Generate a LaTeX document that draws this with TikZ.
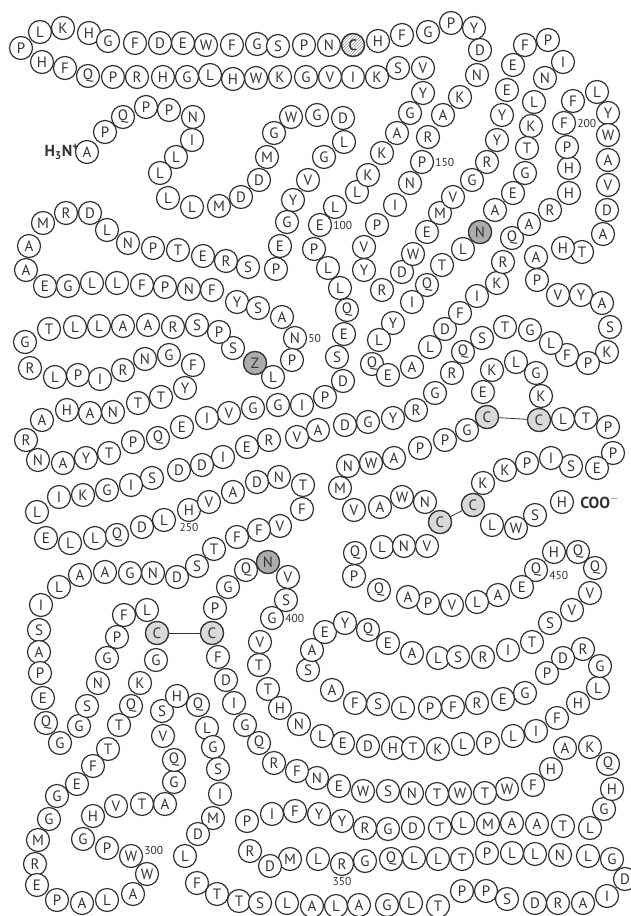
\documentclass[tikz,border=0pt]{standalone}
\usepackage{fontspec}
\setmainfont{PT Sans}
\usetikzlibrary{positioning,patterns}
\definecolor{ringgray}{HTML}{333333}
\tikzset{
  res/.style={circle, draw=ringgray, line width=1.2pt, fill=white, text=ringgray,
    minimum size=23pt, inner sep=0pt, font=\fontsize{15}{15}\selectfont},
  glyco/.style={res, fill=gray!65},
  cys/.style={res, fill=gray!30},
  num/.style={font=\fontsize{11.5}{11.5}\selectfont, text=ringgray, inner sep=1pt},
  term/.style={font=\fontsize{16}{16}\selectfont\bfseries, text=ringgray, inner sep=0pt},
}
\begin{document}
\begin{tikzpicture}[x=1pt, y=-1pt]
  \useasboundingbox (0,0) rectangle (631,916);
  % residues 1..496, in chain order
  \foreach \x/\y/\aa [count=\i] in {
    % N-terminal hairpin
    87/152/A, 105/132/P, 123/117/Q, 146/107/P, 169/110/P, 193/117/N, 192/140/I, 176/157/L, 160/173/L, 168/198/L,
    192/207/L, 219/206/M, 241/197/D, 259/180/D, 267/157/M, 274/133/G, 291/117/W, 317/115/G, 343/118/D, 344/142/L,
    324/157/G, 308/180/V, 293/200/Y, 287/222/G, 280/246/E, 276/269/P, 248/267/S, 226/261/R, 203/256/E, 178/250/T,
    153/248/P, 128/243/N, 107/230/L, 90/213/D, 66/213/R, 43/223/M, 29/246/A, 26/270/A, 45/286/E, 68/286/G,
    92/283/L, 117/283/L, 142/285/F, 165/287/P, 189/289/N, 212/290/F, 237/302/Y, 258/308/S, 282/317/A, 295/338/N,
    % 51..100
    292/360/P, 273/377/L, 255/363/Z, 233/348/S, 219/332/P, 197/325/S, 173/327/R, 148/325/A, 123/326/A, 99/326/L,
    75/327/L, 49/329/T, 25/342/G, 30/368/R, 55/377/L, 78/375/P, 100/379/I, 123/370/R, 145/359/N, 169/355/G,
    193/365/F, 185/388/Y, 161/397/T, 138/403/T, 113/412/N, 90/413/A, 67/410/H, 42/420/A, 26/440/R, 38/460/N,
    63/463/A, 86/458/Y, 109/453/T, 133/442/P, 158/438/Q, 182/427/E, 207/418/I, 229/413/V, 253/408/G, 278/405/G,
    302/405/I, 325/397/P, 343/381/D, 337/357/S, 344/334/E, 347/310/Q, 340/288/L, 328/268/L, 314/249/P, 320/225/E,
    % 101..150, top loop
    335/207/L, 357/192/L, 368/175/K, 382/153/K, 397/133/A, 410/113/G, 423/93/Y, 423/68/V, 398/68/S, 377/77/K,
    353/77/I, 330/77/V, 306/77/G, 280/77/K, 256/78/W, 233/79/H, 210/75/L, 187/77/G, 163/77/H, 137/77/R,
    113/77/P, 88/76/Q, 65/68/F, 42/62/H, 21/48/P, 40/32/L, 63/28/K, 89/33/H, 108/41/G, 135/43/F,
    160/43/D, 183/43/E, 206/45/W, 232/45/F, 257/44/G, 278/46/S, 304/45/P, 329/45/N, 353/45/C, 378/41/H,
    402/35/F, 428/32/G, 451/23/P, 474/28/Y, 480/50/D, 477/75/N, 460/97/K, 443/115/A, 428/137/R, 422/162/P,
    % 151..200
    410/183/N, 395/205/I, 377/225/P, 364/247/V, 364/270/Y, 382/290/R, 402/272/D, 413/254/W, 427/232/E, 440/213/M,
    453/197/V, 472/180/G, 487/162/R, 497/140/Y, 502/115/Y, 507/90/E, 513/65/E, 525/45/F, 548/40/P, 563/62/I,
    545/78/N, 534/102/L, 531/126/K, 527/148/T, 525/173/G, 513/193/E, 495/210/A, 480/232/N, 463/249/L, 442/265/T,
    427/285/Q, 412/302/I, 393/323/Y, 379/340/L, 372/364/Q, 388/375/E, 412/367/A, 430/347/L, 445/329/D, 460/313/F,
    477/296/I, 497/283/K, 503/262/R, 512/238/Q, 529/224/A, 550/210/R, 569/193/H, 569/168/H, 567/147/P, 564/123/F,
    % 201..250
    573/101/F, 597/92/L, 608/113/Y, 608/135/W, 608/160/A, 608/185/V, 607/210/D, 603/234/A, 582/252/T, 563/248/H,
    536/257/A, 537/280/P, 558/295/V, 581/295/Y, 602/303/A, 610/327/S, 607/352/K, 588/363/P, 567/355/F, 551/343/L,
    530/330/G, 505/327/T, 482/338/S, 463/352/Q, 452/373/R, 435/393/G, 416/410/R, 393/418/Y, 368/422/G, 345/425/D,
    318/430/A, 297/437/V, 269/440/R, 247/447/E, 223/457/I, 202/465/D, 179/470/D, 152/478/S, 131/485/I, 107/490/G,
    83/495/K, 59/497/I, 37/512/L, 46/538/E, 70/543/L, 95/538/L, 117/535/Q, 142/527/D, 164/520/L, 189/510/H,
    % 251..300
    209/502/V, 233/492/A, 257/482/D, 279/477/N, 303/485/T, 302/509/F, 280/526/V, 259/530/F, 237/537/F, 214/549/T,
    197/566/S, 177/577/D, 153/573/N, 130/573/G, 105/572/A, 80/575/A, 59/587/L, 41/605/I, 39/630/S, 39/652/A,
    40/673/P, 43/698/E, 46/723/Q, 60/743/G, 79/726/G, 87/706/S, 98/683/N, 107/658/G, 117/637/P, 124/615/F,
    147/610/L, 157/633/C, 156/660/G, 140/683/K, 131/706/Q, 119/725/T, 108/749/T, 93/766/F, 77/784/E, 57/796/G,
    49/819/G, 38/840/M, 35/864/R, 37/885/E, 57/900/P, 82/903/A, 107/900/L, 133/894/A, 147/874/W, 131/856/W,
    % 301..350
    107/848/P, 83/839/G, 93/816/H, 116/806/V, 142/804/T, 165/804/A, 174/782/G, 174/760/Q, 163/736/V, 162/711/S,
    177/696/H, 198/705/Q, 207/728/L, 213/747/G, 218/769/S, 220/794/I, 213/818/M, 198/834/D, 185/856/L, 197/883/F,
    217/894/T, 239/901/T, 260/903/S, 287/903/L, 312/906/A, 336/906/L, 359/905/A, 387/905/G, 411/903/L, 438/906/T,
    462/891/P, 486/891/P, 507/899/S, 535/903/D, 558/903/R, 583/903/A, 607/896/I, 625/879/D, 612/859/G, 588/856/L,
    560/855/N, 535/854/L, 512/853/L, 487/853/P, 462/859/T, 438/859/L, 414/858/L, 391/859/Q, 365/861/G, 342/864/R,
    % 351..400
    318/859/L, 290/859/M, 270/866/D, 250/851/R, 247/821/P, 272/814/I, 295/811/F, 319/814/Y, 342/821/Y, 365/828/R,
    388/829/G, 413/828/D, 440/828/T, 463/823/L, 488/824/M, 512/823/A, 537/824/A, 563/826/T, 590/828/L, 604/809/G,
    612/789/H, 608/764/Q, 590/747/K, 565/748/A, 551/769/H, 533/785/F, 507/789/W, 485/793/T, 460/793/W, 437/794/T,
    412/793/N, 388/791/S, 363/791/W, 339/786/E, 317/778/N, 297/771/F, 274/763/R, 259/743/Q, 245/725/G, 234/703/I,
    226/680/D, 218/657/F, 212/633/C, 215/608/P, 228/587/G, 246/570/Q, 268/562/N, 288/577/V, 286/600/S, 272/618/G,
    % 401..450
    260/642/V, 259/665/T, 268/689/T, 280/708/H, 299/724/N, 322/736/L, 343/743/E, 368/746/D, 393/748/H, 413/748/T,
    438/749/K, 463/744/L, 488/743/P, 513/736/L, 536/731/I, 557/718/F, 578/703/H, 598/688/L, 600/666/G, 583/649/R,
    563/658/D, 547/673/P, 525/693/G, 503/699/E, 477/703/R, 453/707/F, 430/708/P, 403/708/L, 378/704/S, 355/703/F,
    332/690/A, 308/670/S, 312/650/A, 325/632/E, 345/623/Y, 368/630/Q, 388/643/E, 412/653/A, 438/658/L, 458/657/S,
    483/657/R, 508/650/I, 532/642/T, 550/623/S, 572/610/V, 590/593/V, 595/568/Q, 578/552/Q, 554/552/H, 536/570/Q,
    % 451..496, C-terminus
    522/587/E, 498/595/A, 477/602/L, 452/605/V, 428/603/P, 408/597/A, 379/590/Q, 354/576/P, 355/553/Q, 382/547/L,
    404/546/N, 427/546/V, 440/522/C, 425/502/N, 402/497/W, 380/507/A, 354/510/V, 340/488/M, 348/466/N, 371/463/W,
    394/458/A, 420/448/P, 445/440/P, 467/430/G, 487/417/C, 483/392/E, 492/370/K, 516/362/L, 536/373/G, 541/396/K,
    539/420/C, 563/419/L, 586/418/T, 608/427/P, 613/453/P, 597/468/E, 571/466/S, 551/458/I, 527/463/P, 505/470/K,
    483/483/K, 473/505/C, 492/525/L, 516/528/W, 535/515/S, 562/502/H}
    \node[res] (r\i) at (\x,\y) {\aa};
  % modified residues
  \node[glyco] (m53) at (r53) {Z};
  \node[glyco] (m178) at (r178) {N};
  \node[glyco] (m397) at (r397) {N};
  \node[res, pattern=north east lines, pattern color=gray!80] (m139) at (r139) {C};
  % disulfide bridges
  \node[cys] (c282) at (r282) {C};
  \node[cys] (c393) at (r393) {C};
  \node[cys] (c463) at (r463) {C};
  \node[cys] (c492) at (r492) {C};
  \node[cys] (c475) at (r475) {C};
  \node[cys] (c481) at (r481) {C};
  \draw[ringgray, line width=0.8pt] (c282) -- (c393);
  \draw[ringgray, line width=0.8pt] (c463) -- (c492);
  \draw[ringgray, line width=0.8pt] (c475) -- (c481);
  % numbering
  \node[num, right=0pt of r50] (n50) {50};
  \node[num, right=0pt of r100] (n100) {100};
  \node[num, right=0pt of r150] (n150) {150};
  \node[num, right=0pt of r200] (n200) {200};
  \node[num, below=0pt of r250] (n250) {250};
  \node[num, right=0pt of r300, yshift=6pt] (n300) {300};
  \node[num, below=0pt of r350] (n350) {350};
  \node[num, right=0pt of r400] (n400) {400};
  \node[num, right=0pt of r450, yshift=-5pt] (n450) {450};
  % termini
  \node[term, left=-4pt of r1] (nterm) {H\textsubscript{3}N\textsuperscript{+}};
  \node[term, right=6pt of r496] (cterm) {COO$^{-}$};
\end{tikzpicture}
\end{document}
